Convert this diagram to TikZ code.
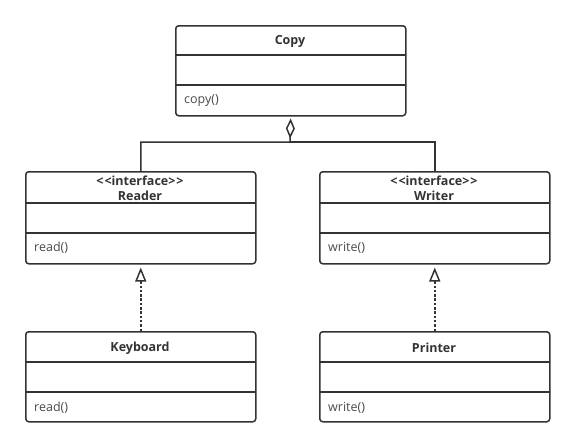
\documentclass[tikz,border=0pt]{standalone}
\usepackage{fontspec}
\setmainfont{Open Sans}
\usetikzlibrary{arrows.meta}
\definecolor{ink}{HTML}{333333}
\definecolor{txt}{HTML}{4A4A4A}
\tikzset{
  cls/.style={draw=ink, line width=1.5pt, rounded corners=3pt, minimum width=230pt, minimum height=90pt, inner sep=0pt, fill=white},
  divider/.style={draw=ink, line width=1.5pt},
  title/.style={font=\bfseries\fontsize{12.5}{14}\selectfont, text=ink, inner sep=0pt},
  method/.style={font=\fontsize{12.5}{14}\selectfont, text=txt, inner sep=0pt, anchor=west},
  conn/.style={draw=ink, line width=1.5pt},
  real/.style={draw=ink, line width=1.8pt, dash pattern=on 2.5pt off 1.8pt, -{Triangle[open, length=14pt, width=11pt, line width=1.5pt]}, shorten >=3pt},
}
\begin{document}
\begin{tikzpicture}[x=1pt,y=-1pt]
\useasboundingbox (0,0) rectangle (574,447);
% Copy
\node[cls, anchor=north west] (copy) at (175,25) {};
\draw[divider] (175,55) -- (405,55);
\draw[divider] (175,85) -- (405,85);
\node[title] (copyT) at (290,41) {Copy};
\node[method] (copyM) at (184,101) {copy()};
% Reader
\node[cls, anchor=north west, minimum height=92pt] (reader) at (25,171) {};
\draw[divider] (25,203) -- (255,203);
\draw[divider] (25,233) -- (255,233);
\node[title] (readerS) at (140,181) {<\kern1pt<interface>\kern1pt>};
\node[title] (readerT) at (140,196) {Reader};
\node[method] (readerM) at (34,248) {read()};
% Writer
\node[cls, anchor=north west, minimum height=92pt] (writer) at (319,171) {};
\draw[divider] (319,203) -- (549,203);
\draw[divider] (319,233) -- (549,233);
\node[title] (writerS) at (434,181) {<\kern1pt<interface>\kern1pt>};
\node[title] (writerT) at (434,196) {Writer};
\node[method] (writerM) at (328,248) {write()};
% Keyboard
\node[cls, anchor=north west] (kb) at (25,331) {};
\draw[divider] (25,362) -- (255,362);
\draw[divider] (25,392) -- (255,392);
\node[title] (kbT) at (140,348) {Keyboard};
\node[method] (kbM) at (34,408) {read()};
% Printer
\node[cls, anchor=north west] (pr) at (319,331) {};
\draw[divider] (319,362) -- (549,362);
\draw[divider] (319,392) -- (549,392);
\node[title] (prT) at (434,348) {Printer};
\node[method] (prM) at (328,408) {write()};
% aggregation
\coordinate (j) at (290,142);
\draw[conn, -{Diamond[open, length=20pt, width=9pt, line width=1.5pt]}, shorten >=2pt] (reader.north) |- (j) -- (copy.south);
\draw[conn] (writer.north) |- (j);
% realization
\draw[real] (kb.north) -- (reader.south);
\draw[real] (pr.north) -- (writer.south);
\end{tikzpicture}
\end{document}
